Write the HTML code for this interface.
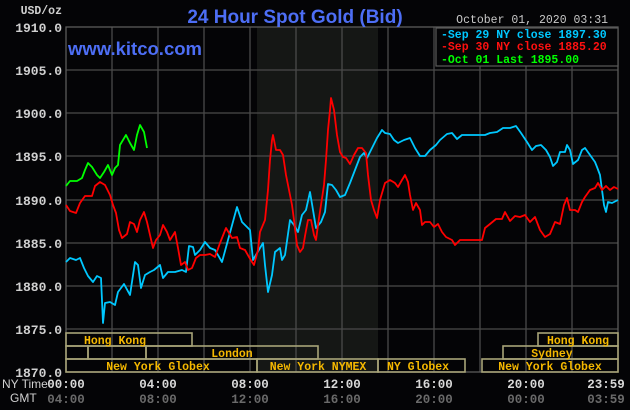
<!DOCTYPE html>
<html><head><meta charset="utf-8"><style>
html,body{margin:0;padding:0;background:#040406;}
svg{display:block}
text{font-family:"Liberation Mono",monospace;font-weight:bold}
text.sans{font-family:"Liberation Sans",sans-serif}
</style></head><body>
<svg width="630" height="410" viewBox="0 0 630 410" xmlns="http://www.w3.org/2000/svg">
<rect width="630" height="410" fill="#040406"/>
<rect x="257" y="27" width="121" height="345" fill="#151715"/>
<g stroke="#4a4a4a" stroke-width="1.3">
<line x1="112" y1="27" x2="112" y2="372"/><line x1="158" y1="27" x2="158" y2="372"/><line x1="204" y1="27" x2="204" y2="372"/><line x1="250" y1="27" x2="250" y2="372"/><line x1="296" y1="27" x2="296" y2="372"/><line x1="342" y1="27" x2="342" y2="372"/><line x1="388" y1="27" x2="388" y2="372"/><line x1="434" y1="27" x2="434" y2="372"/><line x1="480" y1="27" x2="480" y2="372"/><line x1="526" y1="27" x2="526" y2="372"/><line x1="572" y1="27" x2="572" y2="372"/>
<line x1="66" y1="70" x2="618" y2="70"/><line x1="66" y1="113" x2="618" y2="113"/><line x1="66" y1="156" x2="618" y2="156"/><line x1="66" y1="200" x2="618" y2="200"/><line x1="66" y1="243" x2="618" y2="243"/><line x1="66" y1="286" x2="618" y2="286"/><line x1="66" y1="329" x2="618" y2="329"/>
</g>
<rect x="66" y="27" width="552" height="345" fill="none" stroke="#5a5a5a" stroke-width="1.3"/>
<g fill="none" stroke-width="1.8" stroke-linejoin="round">
<polyline stroke="#00c8ff" points="66,262 70,258 76,260 80,258 84,268 88,276 93,282 97,276 101,278 103,323 105,303 110,302 115,305 118,292 124,284 130,295 135,262 138,265 141,288 145,275 150,272 154,270 160,265 163,278 168,272 175,272 182,270 186,272 189,246 193,247 195,255 200,250 205,242 210,248 215,250 222,262 237,207 242,222 250,230 253,260 260,248 263,243 265,265 268,292 272,275 275,252 280,248 282,260 285,255 290,220 294,225 298,232 302,215 306,210 310,192 313,210 316,228 321,222 325,212 328,184 332,185 336,190 340,197 345,195 350,183 355,170 360,157 364,153 367,158 372,148 377,138 382,130 385,133 390,134 394,140 398,143 404,140 410,138 415,148 420,156 425,156 430,150 436,145 440,140 447,134 452,133 457,139 462,135 485,135 490,133 497,132 503,128 510,128 516,126 521,133 527,142 532,150 536,146 541,145 546,150 550,157 553,166 557,162 560,152 565,152 567,145 570,150 573,164 578,160 582,150 585,148 590,155 595,162 597,167 600,175 602,190 604,205 606,212 608,202 612,203 618,200"/>
<polyline stroke="#ff0000" points="66,205 70,211 76,213 80,203 85,196 92,196 95,186 100,182 105,185 110,195 113,205 116,213 119,230 122,238 127,234 130,222 134,224 137,232 140,220 144,212 147,222 150,235 153,248 156,240 160,235 163,225 167,232 170,240 175,232 178,248 181,265 185,262 188,270 192,268 196,258 200,255 205,255 210,254 215,257 220,243 226,228 232,238 237,237 240,248 245,250 249,257 252,262 254,265 258,250 260,232 265,220 268,190 270,160 272,140 273,135 276,150 280,150 283,155 286,175 289,190 292,205 294,220 297,245 300,252 303,248 305,236 308,220 311,220 314,235 316,240 318,225 321,205 324,185 326,160 328,130 330,110 331,98 334,110 337,135 340,152 343,157 346,158 350,164 354,155 358,148 362,148 366,153 368,175 371,200 374,210 377,218 380,200 385,183 390,180 395,183 398,187 402,180 405,175 408,182 410,195 413,210 416,203 420,210 422,225 425,222 430,222 434,227 438,224 442,232 446,237 448,238 452,240 455,245 460,240 482,240 485,228 490,224 496,219 502,219 505,212 510,221 515,216 520,217 525,215 530,222 535,217 540,230 545,237 550,234 555,222 560,224 564,205 567,198 570,210 575,210 578,212 582,202 585,197 590,190 595,188 598,183 602,190 606,186 610,190 614,187 618,189"/>
<polyline stroke="#00ff00" points="66,186 70,181 77,181 82,178 85,170 88,163 92,167 97,175 100,178 104,172 108,165 110,170 112,175 115,168 118,165 120,145 123,140 126,135 130,143 134,150 137,135 140,125 144,132 147,148"/>
</g>
<g fill="none" stroke="#a8a478" stroke-width="1.6">
<rect x="66" y="333" width="126" height="13"/>
<rect x="66" y="346" width="22" height="13"/><rect x="88" y="346" width="58" height="13"/><rect x="146" y="346" width="172" height="13"/>
<rect x="66" y="359" width="191" height="13"/><rect x="257" y="359" width="121" height="13"/><rect x="378" y="359" width="87" height="13"/><rect x="482" y="359" width="136" height="13"/>
<rect x="538" y="333" width="80" height="13"/><rect x="503" y="346" width="115" height="13"/>
</g>
<g fill="#f5b800" font-size="11.5" text-anchor="middle">
<text x="115" y="344">Hong Kong</text>
<text x="232" y="357">London</text>
<text x="158" y="370">New York Globex</text>
<text x="318" y="370">New York NYMEX</text>
<text x="418" y="370">NY Globex</text>
<text x="550" y="370">New York Globex</text>
<text x="578" y="344">Hong Kong</text>
<text x="552" y="357">Sydney</text>
</g>
<g fill="#d0d0d0" font-size="13" text-anchor="end">
<text x="62" y="14" font-size="11.5">USD/oz</text>
<text x="62" y="32">1910.0</text><text x="62" y="75">1905.0</text><text x="62" y="118">1900.0</text><text x="62" y="161">1895.0</text><text x="62" y="205">1890.0</text><text x="62" y="248">1885.0</text><text x="62" y="291">1880.0</text><text x="62" y="334">1875.0</text><text x="62" y="377">1870.0</text>
</g>
<text class="sans" x="2" y="388" fill="#d0d0d0" style="font-weight:normal" font-size="12">NY Time</text>
<text class="sans" x="10" y="402" fill="#d0d0d0" style="font-weight:normal" font-size="12">GMT</text>
<g font-size="12.5" text-anchor="middle">
<g fill="#d8d8d8"><text x="66" y="388">00:00</text><text x="158" y="388">04:00</text><text x="250" y="388">08:00</text><text x="342" y="388">12:00</text><text x="434" y="388">16:00</text><text x="526" y="388">20:00</text><text x="606" y="388">23:59</text></g>
<g fill="#6a6a6a"><text x="66" y="403">04:00</text><text x="158" y="403">08:00</text><text x="250" y="403">12:00</text><text x="342" y="403">16:00</text><text x="434" y="403">20:00</text><text x="526" y="403">00:00</text><text x="606" y="403">03:59</text></g>
</g>
<text class="sans" x="295" y="23" text-anchor="middle" fill="#4d6ef5" font-size="19">24 Hour Spot Gold (Bid)</text>
<text class="sans" x="68" y="55" fill="#4d6ef5" font-size="18.5">www.kitco.com</text>
<text x="608" y="23" text-anchor="end" fill="#c8c8c8" font-size="11.5" style="font-weight:normal">October 01, 2020 03:31</text>
<rect x="436" y="28" width="182" height="38" fill="#040406" stroke="#5a5a5a" stroke-width="1.2"/>
<g font-size="11.5">
<text x="441" y="38" fill="#00c8ff">-Sep 29 NY close 1897.30</text>
<text x="441" y="50" fill="#ff1010">-Sep 30 NY close 1885.20</text>
<text x="441" y="63" fill="#00ff00">-Oct 01 Last 1895.00</text>
</g>
</svg>
</body></html>
